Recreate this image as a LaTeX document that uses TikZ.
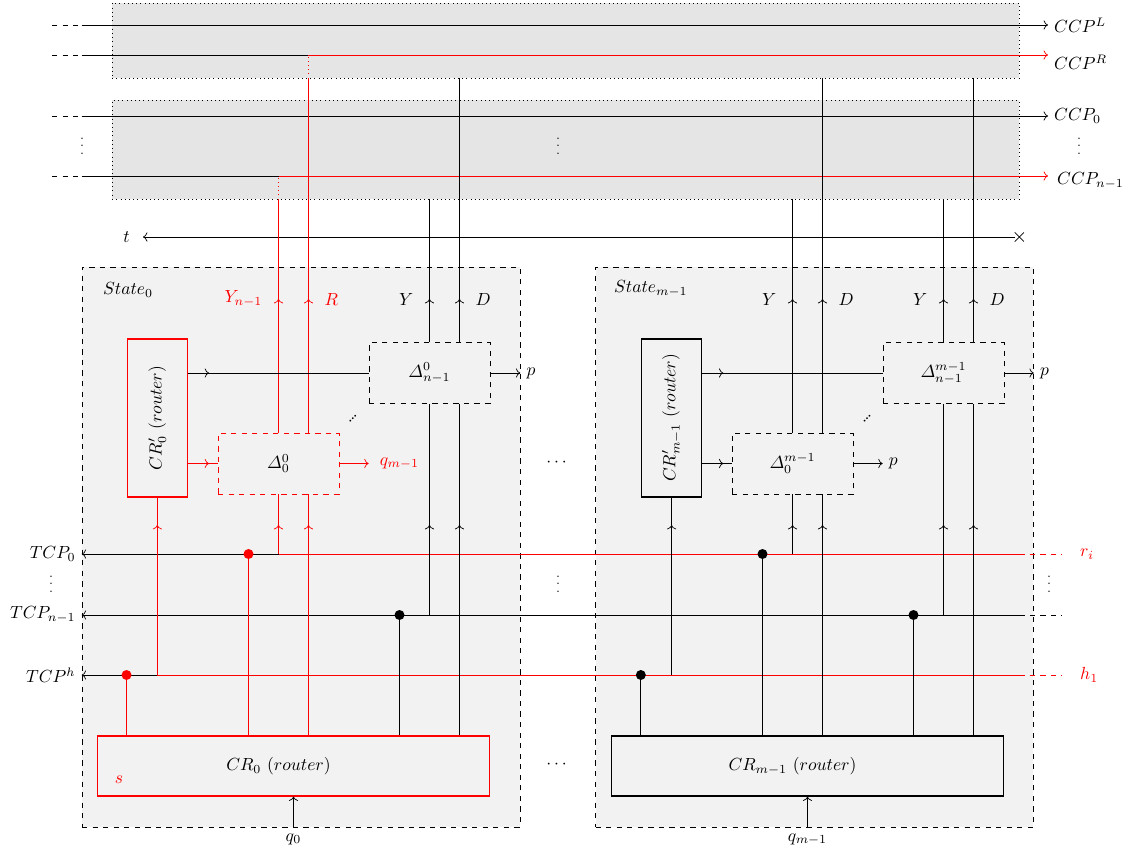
\documentclass[tikz,border=0pt]{standalone}
\usepackage{amsmath}
\usepackage{graphicx}
\usepackage{tikz}
\usetikzlibrary{arrows.meta,shapes.misc}
\definecolor{bandfill}{gray}{0.9}
\definecolor{statefill}{gray}{0.95}
\tikzset{
  bandbox/.style={draw, dotted, fill=bandfill, minimum width=18.14cm, inner sep=0pt},
  statebox/.style={draw, dashed, fill=statefill, minimum width=8.76cm,
    minimum height=11.2cm, inner sep=0pt},
  deltabox/.style={draw, dashed, minimum width=2.42cm, minimum height=1.22cm, inner sep=0pt},
  routerbox/.style={draw, semithick, minimum width=7.86cm, minimum height=1.2cm, inner sep=0pt},
  sidebox/.style={draw, semithick, minimum width=1.21cm, minimum height=3.16cm, inner sep=0pt},
  joint/.style={circle, fill, inner sep=0pt, minimum size=0.2cm},
  vdotnode/.style={font=\scriptsize},
}

\begin{document}
\begin{tikzpicture}[x=0.02cm, y=-0.02cm]
  \useasboundingbox (0,0) rectangle (1140,855);

  % rows and columns
  \coordinate (rowL) at (0,25);
  \coordinate (rowR) at (0,55);
  \coordinate (row0) at (0,116);
  \coordinate (rowN) at (0,176);
  \coordinate (rowT) at (0,237);
  \coordinate (tipHi) at (0,299);
  \coordinate (tipLo) at (0,525);
  \coordinate (bus0) at (0,554);
  \coordinate (busN) at (0,615);
  \coordinate (busH) at (0,675);
  \coordinate (colS) at (52,0);
  \coordinate (colE) at (1048,0);
  \coordinate (colG) at (1062,0);

  % channel bands
  \node[bandbox, minimum height=1.5cm] (bandA) at (565.5,40.5) {};
  \node[bandbox, minimum height=1.98cm] (bandB) at (565.5,149.5) {};

  % states
  \node[statebox] (state0) at (301,547) {};
  \node[statebox] (state1) at (814.5,547) {};
  \node[anchor=west] (st0lbl) at (97,290) {$State_0$};
  \node[anchor=west] (st1lbl) at (608,289) {$State_{m-1}$};

  % state 0
  \node[sidebox, draw=red] (crp0) at (157.3,418) {\rotatebox{90}{$CR'_0\ (router)$}};
  \node[deltabox, draw=red] (dfirst0) at (278.5,463.5) {$\varDelta^0_0$};
  \node[deltabox] (dlast0) at (429.5,373) {$\varDelta^0_{n-1}$};
  \node[routerbox, draw=red] (cr0) at (293.5,766) {};
  \node (cr0lbl) at (dfirst0 |- cr0) {$CR_0\ (router)$};
  \node[red] (s0) at (119,780) {$s$};
  \coordinate (colR0) at ([xshift=0.6cm]dfirst0.center);

  % state m-1
  \node[sidebox] (crp1) at (671.6,418) {\rotatebox{90}{$CR'_{m-1}\ (router)$}};
  \node[deltabox] (dfirst1) at (792.5,463.5) {$\varDelta^{m-1}_0$};
  \node[deltabox] (dlast1) at (943.5,373) {$\varDelta^{m-1}_{n-1}$};
  \node[routerbox] (cr1) at (807.5,766) {};
  \node (cr1lbl) at (dfirst1 |- cr1) {$CR_{m-1}\ (router)$};

  % channel lines
  \draw[dashed] (colS |- rowL) -- (state0.west |- rowL);
  \draw[->] (state0.west |- rowL) -- (colE |- rowL) node[right] (ccpL) {$CCP^L$};
  \draw[dashed] (colS |- rowR) -- (state0.west |- rowR);
  \draw (state0.west |- rowR) -- (colR0 |- rowR);
  \draw[red, ->] (colR0 |- rowR) -- (colE |- rowR) node[right, black, yshift=-0.14cm] (ccpR) {$CCP^R$};
  \draw[dashed] (colS |- row0) -- (state0.west |- row0);
  \draw[->] (state0.west |- row0) -- (colE |- row0) node[right] (ccp0) {$CCP_0$};
  \draw[dashed] (colS |- rowN) -- (state0.west |- rowN);
  \draw (state0.west |- rowN) -- (dfirst0 |- rowN);
  \draw[red, ->] (dfirst0 |- rowN) -- (colE |- rowN) node[right=0.06cm, black, yshift=-0.1cm] (ccpN) {$CCP_{n-1}$};
  \draw[red, dotted] (dfirst0 |- bandB.south) -- (dfirst0 |- rowN);
  \draw[red, dotted] (colR0 |- bandA.south) -- (colR0 |- rowR);

  % time
  \coordinate (tarrow) at (143,237);
  \node[cross out, draw, minimum size=0.17cm, inner sep=0pt] (tend) at (bandA.east |- rowT) {};
  \draw[->] (tend) -- (tarrow) node[left=0.14cm] (tlbl) {$t$};

  % buses
  \draw[<-] (state0.west |- bus0) node[left] (tcp0) {$TCP_0$} -- (dfirst0 |- bus0);
  \draw[red] (dfirst0 |- bus0) -- (bandA.east |- bus0);
  \draw[red, dashed] (bandA.east |- bus0) -- (colG |- bus0) node[right=0.24cm] (ri) {$r_i$};
  \draw[<-] (state0.west |- busN) node[left] (tcpN) {$TCP_{n-1}$} -- (bandA.east |- busN);
  \draw[dashed] (bandA.east |- busN) -- (colG |- busN);
  \draw[<-] (state0.west |- busH) node[left] (tcpH) {$TCP^h$} -- (crp0 |- busH);
  \draw[red] (crp0 |- busH) -- (bandA.east |- busH);
  \draw[red, dashed] (bandA.east |- busH) -- (colG |- busH) node[right=0.24cm] (h1) {$h_1$};

  % transition boxes
  \foreach \d/\bus/\cr/\c/\ylab/\dlab in
    {dfirst0/bus0/cr0/red/Y_{n-1}/R, dlast0/busN/cr0/black/Y/D,
     dfirst1/bus0/cr1/black/Y/D, dlast1/busN/cr1/black/Y/D} {
    \coordinate (dcol) at ([xshift=0.6cm]\d.center);
    \coordinate (jcol) at ([xshift=-0.6cm]\d.center);
    \draw[\c, ->] (\d |- \bus) -- (\d |- tipLo);
    \draw[\c] (\d |- tipLo) -- (\d.south);
    \draw[\c, ->] (dcol |- \cr.north) -- (dcol |- tipLo);
    \draw[\c] (dcol |- tipLo) -- (dcol |- \d.south);
    \node[joint, fill=\c] (j\d) at (jcol |- \bus) {};
    \draw[\c] (j\d) -- (j\d |- \cr.north);
    \draw[\c, ->] (\d.north) -- (\d |- tipHi) node[left=0.2cm] (y\d) {$\ylab$};
    \draw[\c] (\d |- tipHi) -- (\d |- bandB.south);
    \draw[\c, ->] (dcol |- \d.north) -- (dcol |- tipHi) node[right=0.2cm] (d\d) {$\dlab$};
    \draw[\c] (dcol |- tipHi) -- (dcol |- bandA.south);
  }

  % side routers
  \foreach \p/\a/\b/\r/\c in {crp0/dlast0/dfirst0/cr0/red, crp1/dlast1/dfirst1/cr1/black} {
    \draw[\c, ->] (\p |- busH) -- (\p |- tipLo);
    \draw[\c] (\p |- tipLo) -- (\p.south);
    \node[joint, fill=\c] (j\p) at (\p.west |- busH) {};
    \draw[\c] (j\p) -- (j\p |- \r.north);
    \draw[->] (\p.east |- \a) -- ++(0.42cm,0);
    \draw (\p.east |- \a) -- (\a.west);
    \draw[\c, ->] (\p.east |- \b) -- ++(0.42cm,0);
    \draw[\c] (\p.east |- \b) -- (\b.west);
  }

  % outputs and inputs
  \draw[->] (dlast0.east) -- (dlast0.east -| state0.east) node[right] (p0) {$p$};
  \draw[red, ->] (dfirst0.east) -- (dfirst0.east -| dlast0.west) node[right=0.1cm] (qout) {$q_{m-1}$};
  \draw[->] (dlast1.east) -- (dlast1.east -| state1.east) node[right] (p1) {$p$};
  \draw[->] (dfirst1.east) -- (dfirst1.east -| dlast1.west) node[right] (p2) {$p$};
  \draw[<-] (cr0.south) -- (cr0.south |- state0.south) node[below] (q0) {$q_0$};
  \draw[<-] (cr1.south) -- (cr1.south |- state1.south) node[below] (q1) {$q_{m-1}$};

  % dots
  \node[vdotnode] (vdA) at (82,141) {$\vdots$};
  \node[vdotnode] (vdB) at (558,141) {$\vdots$};
  \node[vdotnode] (vdC) at (1079,141) {$\vdots$};
  \node[vdotnode] (vdD) at (51,579) {$\vdots$};
  \node[vdotnode] (vdE) at (558,579) {$\vdots$};
  \node[vdotnode] (vdF) at (1049,579) {$\vdots$};
  \node (hdA) at (558,463) {$\cdots$};
  \node (hdB) at (558,765) {$\cdots$};
  \node[rotate=45] (ddA) at (353,419) {\dots};
  \node[rotate=45] (ddB) at (867,419) {\dots};
\end{tikzpicture}
\end{document}
